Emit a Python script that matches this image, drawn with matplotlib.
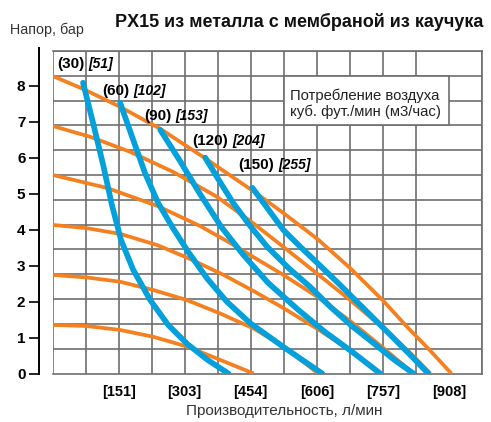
import numpy as np
import matplotlib
matplotlib.use("Agg")
import matplotlib.pyplot as plt
from matplotlib import font_manager
from matplotlib.patches import Rectangle

# --- данные (л/мин, бар) ---
# оранжевые кривые: давление воздуха 120, 100, 80, 60, 40, 20 psi
o120_x = [0, 70, 155, 247, 345, 460, 529, 607, 682, 758, 813, 866, 914]
o120_y = [8.27, 7.91, 7.41, 6.80, 6.02, 5.07, 4.46, 3.74, 2.93, 2.02, 1.29, 0.63, 0]
o100_x = [0, 86, 178, 277, 377, 453, 529, 607, 682, 758, 820, 866]
o100_y = [6.88, 6.58, 6.16, 5.60, 4.91, 4.24, 3.52, 2.77, 2.04, 1.26, 0.57, 0]
o80_x = [0, 124, 240, 338, 407, 453, 529, 607, 682, 758, 827]
o80_y = [5.52, 5.16, 4.66, 4.10, 3.63, 3.29, 2.74, 2.13, 1.46, 0.71, 0]
o60_x = [0, 78, 155, 240, 316, 392, 461, 529, 607, 667, 710, 751]
o60_y = [4.13, 4.04, 3.88, 3.57, 3.18, 2.74, 2.29, 1.82, 1.24, 0.76, 0.38, 0]
o40_x = [0, 78, 155, 231, 308, 384, 461, 529, 609]
o40_y = [2.74, 2.67, 2.55, 2.32, 2.04, 1.67, 1.25, 0.75, 0]
o20_x = [0, 78, 155, 231, 308, 384, 461]
o20_y = [1.35, 1.32, 1.21, 1.02, 0.75, 0.38, 0]

# синие кривые: расход воздуха 30, 60, 90, 120, 150 куб. фут./мин
b30_x = [70, 93, 116, 136, 157, 185, 224, 265, 309, 355, 403]
b30_y = [8.08, 6.96, 5.80, 4.69, 3.71, 2.88, 2.04, 1.35, 0.82, 0.38, 0]
b60_x = [155, 185, 212, 242, 276, 311, 355, 400, 453, 529, 618]
b60_y = [7.52, 6.49, 5.57, 4.74, 4.04, 3.38, 2.63, 1.99, 1.40, 0.74, 0]
b90_x = [247, 292, 338, 387, 437, 494, 563, 625, 687, 751]
b90_y = [6.77, 5.91, 4.99, 4.07, 3.30, 2.52, 1.77, 1.15, 0.60, 0]
b120_x = [350, 384, 414, 453, 492, 541, 591, 637, 687, 735, 781, 827]
b120_y = [6.00, 5.32, 4.74, 4.10, 3.52, 2.93, 2.40, 1.85, 1.31, 0.85, 0.40, 0]
b150_x = [458, 494, 529, 568, 607, 660, 717, 781, 822, 861]
b150_y = [5.16, 4.57, 3.99, 3.52, 3.07, 2.45, 1.76, 0.99, 0.49, 0]

air_cfm = ["30", "60", "90", "120", "150"]
air_m3h = ["51", "102", "153", "204", "255"]

x_ticks = [151.4, 302.8, 454.2, 605.6, 757.0, 908.5]
x_labels = ["[151]", "[303]", "[454]", "[606]", "[757]", "[908]"]
y_ticks = [0, 1, 2, 3, 4, 5, 6, 7, 8]

LPM = 75.708        # 20 гал/мин в л/мин (шаг сетки)
BAR = 10 / 14.5038  # 10 psi в барах (шаг сетки)

names = {f.name for f in font_manager.fontManager.ttflist}
narrow = "Liberation Sans Narrow" if "Liberation Sans Narrow" in names else "Liberation Sans"
plt.rcParams["font.family"] = ["Liberation Sans", "DejaVu Sans"]

orange = "#f5801f"
blue = "#03a0db"
gridc = "#6e6e6e"

fig = plt.figure(figsize=(4.91, 4.22), dpi=100)
ax = fig.add_axes([52.5 / 491, 48.5 / 422, 429.5 / 491, 322.5 / 422])

ax.set_xlim(0, 13 * LPM)
ax.set_ylim(0, 13 * BAR)

ax.set_xticks(np.arange(14) * LPM, minor=True)
ax.set_yticks(np.arange(14) * BAR, minor=True)
ax.grid(which="minor", color=gridc, lw=1.2)
ax.grid(which="major", visible=False)
ax.set_axisbelow(True)

for s in ["top", "right", "bottom"]:
    ax.spines[s].set_color(gridc)
    ax.spines[s].set_linewidth(1.2)
ax.spines["left"].set_position(("outward", 9.5))
ax.spines["left"].set_linewidth(1.4)
ax.spines["left"].set_bounds(0, 9.05)

ax.set_xticks(x_ticks)
ax.set_xticklabels(x_labels, family=[narrow, "DejaVu Sans"], fontweight="bold", fontsize=10.5)
ax.set_yticks(y_ticks)
ax.set_yticklabels([str(v) for v in y_ticks], family=[narrow, "DejaVu Sans"], fontweight="bold", fontsize=11)
ax.tick_params(axis="x", which="major", length=0, pad=8)
ax.tick_params(axis="y", which="major", length=7, width=1.2, direction="out", pad=3)
ax.tick_params(which="minor", length=0)

oranges = [(o120_x, o120_y), (o100_x, o100_y), (o80_x, o80_y),
           (o60_x, o60_y), (o40_x, o40_y), (o20_x, o20_y)]
for xs, ys in oranges:
    ax.plot(xs, ys, color=orange, lw=2.7, solid_capstyle="butt",
            solid_joinstyle="round", zorder=3)

blues = [(b30_x, b30_y), (b60_x, b60_y), (b90_x, b90_y), (b120_x, b120_y), (b150_x, b150_y)]
for xs, ys in blues:
    ax.plot(xs, ys, color=blue, lw=4.1, solid_capstyle="round",
            solid_joinstyle="round", zorder=4)

# подписи расхода воздуха
label_pos = [(10, 8.60), (113, 7.86), (210, 7.17), (321, 6.47), (426, 5.80)]
for (lx, ly), c, m in zip(label_pos, air_cfm, air_m3h):
    t = ax.text(lx, ly, f"({c})", family=[narrow, "DejaVu Sans"], fontweight="bold",
                fontsize=11, va="center", ha="left", zorder=5)
    ax.annotate(f"[{m}]", xy=(1, 0), xycoords=t, xytext=(3, 0), textcoords="offset points",
                family=[narrow, "DejaVu Sans"], fontweight="bold", style="italic",
                fontsize=10, va="bottom", ha="left", zorder=5)

ax.add_patch(Rectangle((7 * LPM, 10 * BAR), 5 * LPM, 2 * BAR, facecolor="white",
                       edgecolor=gridc, lw=1.2, zorder=1))
ax.text(545, 7.49, "Потребление воздуха\nкуб. фут./мин (м3/час)", fontsize=10.7,
        color="#222222", va="center", ha="left", linespacing=1.15, zorder=5)

fig.text(483 / 491, 1 - 22 / 422, "PX15 из металла с мембраной из каучука",
         fontsize=13, fontweight="bold", color="#111111", ha="right", va="center")
fig.text(10 / 491, 1 - 30 / 422, "Напор, бар", fontsize=10.3, color="#333333",
         ha="left", va="center")
fig.text(284 / 491, 1 - 411.5 / 422, "Производительность, л/мин", fontsize=11,
         color="#333333", ha="center", va="center")

fig.savefig("out.png", dpi=100)
